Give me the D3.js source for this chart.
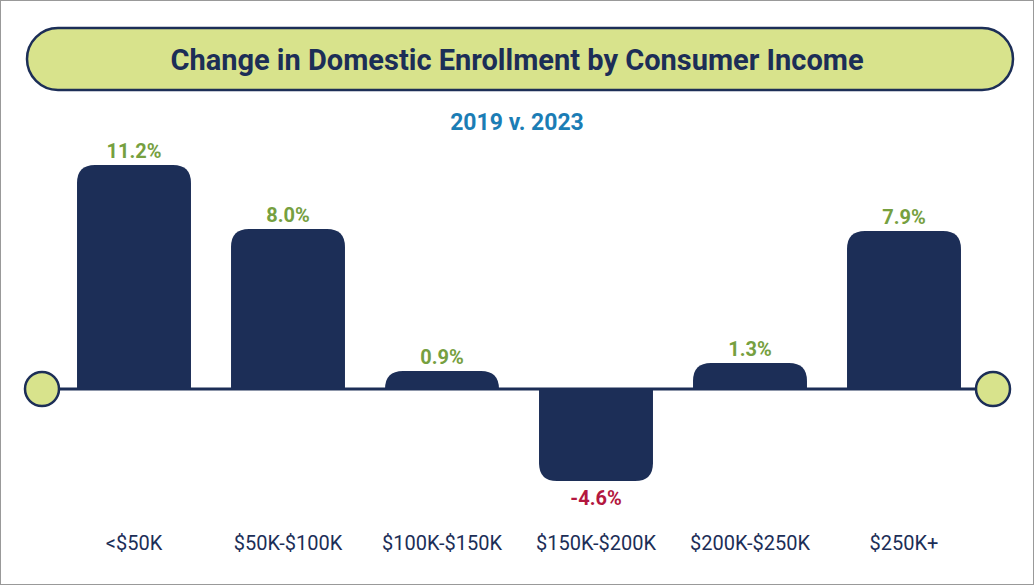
<!DOCTYPE html>
<html><head><meta charset="utf-8">
<script src="https://cdn.jsdelivr.net/npm/d3@7"></script>
<style>body{margin:0;background:#fff;font-family:Roboto,"Open Sans",sans-serif}</style>
</head><body><div id="chart"></div>
<script>
const categories = ["<$50K", "$50K-$100K", "$100K-$150K", "$150K-$200K", "$200K-$250K", "$250K+"];
const values = [11.2, 8.0, 0.9, -4.6, 1.3, 7.9];
const title = "Change in Domestic Enrollment by Consumer Income";
const subtitle = "2019 v. 2023";

const W = 1034, H = 585;
const navy = "#1c2e57", pale = "#d8e38c";
const svg = d3.select("#chart").append("svg").attr("width", W).attr("height", H);

svg.append("rect").attr("x", 0.5).attr("y", 0.5).attr("width", W - 1).attr("height", H - 1)
    .attr("fill", "#fff").attr("stroke", "#999");

// title pill
svg.append("rect").attr("x", 27).attr("y", 28).attr("width", 986).attr("height", 62)
    .attr("rx", 31).attr("fill", pale).attr("stroke", navy).attr("stroke-width", 2.5);
svg.append("text").attr("x", W / 2).attr("y", 70).attr("text-anchor", "middle")
    .attr("font-size", 29).attr("font-weight", 700).attr("fill", navy).text(title);
svg.append("text").attr("x", W / 2).attr("y", 130).attr("text-anchor", "middle")
    .attr("font-size", 23).attr("font-weight", 700).attr("fill", "#1b7db5").text(subtitle);

// scales
const x = d3.scaleBand().domain(categories).range([57, 981]).paddingInner(0.26).paddingOuter(0.13);
const y = d3.scaleLinear().domain([-4.6, 11.2]).range([481, 165]);
const y0 = y(0);

// baseline
svg.append("line").attr("x1", 42).attr("x2", 993).attr("y1", y0).attr("y2", y0)
    .attr("stroke", navy).attr("stroke-width", 3);
[42, 993].forEach(cx => svg.append("circle").attr("cx", cx).attr("cy", y0).attr("r", 17)
    .attr("fill", pale).attr("stroke", navy).attr("stroke-width", 2.5));

// bars with rounded outer end
function barPath(d, i) {
    const x0 = x(categories[i]), w = x.bandwidth();
    const yv = y(d), h = Math.abs(yv - y0);
    const r = Math.min(18, h);
    if (d >= 0) {
        return `M${x0},${y0} V${yv + r} Q${x0},${yv} ${x0 + r},${yv} H${x0 + w - r} Q${x0 + w},${yv} ${x0 + w},${yv + r} V${y0} Z`;
    }
    return `M${x0},${y0} V${yv - r} Q${x0},${yv} ${x0 + r},${yv} H${x0 + w - r} Q${x0 + w},${yv} ${x0 + w},${yv - r} V${y0} Z`;
}
svg.selectAll("path.bar").data(values).enter().append("path").attr("class", "bar")
    .attr("d", barPath).attr("fill", navy);

svg.selectAll("text.val").data(values).enter().append("text").attr("class", "val")
    .attr("x", (d, i) => x(categories[i]) + x.bandwidth() / 2)
    .attr("y", d => d >= 0 ? y(d) - 7 : y(d) + 24)
    .attr("text-anchor", "middle").attr("font-size", 20).attr("font-weight", 700)
    .attr("fill", d => d >= 0 ? "#76a03f" : "#b3173f")
    .text(d => d.toFixed(1) + "%");

svg.selectAll("text.cat").data(categories).enter().append("text").attr("class", "cat")
    .attr("x", d => x(d) + x.bandwidth() / 2).attr("y", 550)
    .attr("text-anchor", "middle").attr("font-size", 20).attr("fill", navy)
    .text(d => d);
</script></body></html>
